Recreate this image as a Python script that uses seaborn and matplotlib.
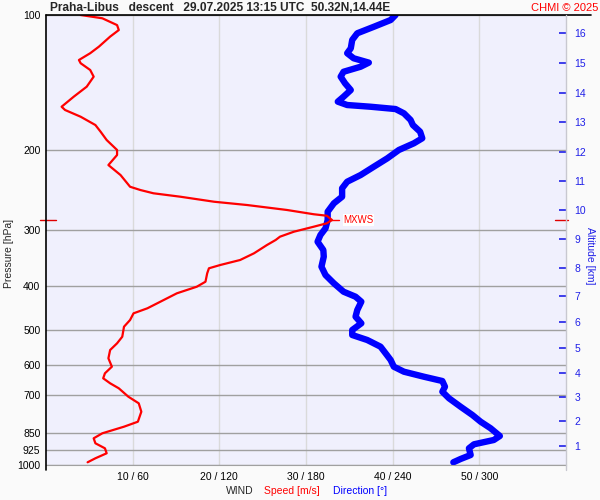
import numpy as np
import matplotlib
matplotlib.use("Agg")
import matplotlib.pyplot as plt
import matplotlib.transforms as mtransforms
from matplotlib.lines import Line2D
from matplotlib.ticker import NullLocator
import seaborn as sns

# Wind speed profile, m/s against pressure in hPa (descent)
speed_pres = [100, 101.7, 105.3, 108, 111.7, 117.6, 121.6, 125.9, 128, 132.5,
              137.1, 144.3, 151.9, 159.9, 162.6, 168.3, 175.6, 181.7, 189.6, 199.5,
              204.7, 215.5, 226.8, 240.8, 244.9, 249, 253.4, 260, 264.4, 271.2,
              277.2, 279.3, 285.5, 290.3, 295.4, 303.1, 310.9, 316.2, 324.4, 338.5,
              350.3, 359.4, 365.5, 375, 391.5, 401.6, 415.4, 433.6, 448.5, 460.2,
              476.2, 492.8, 518.7, 536.5, 555.2, 579.3, 604.7, 625.5, 641.7, 658.3,
              675.4, 705, 729.3, 761.3, 801.3, 822, 850.2, 872.3, 894.9, 918.1,
              941.8, 966.2, 986.2]
speed_ms = [4.0, 6.5, 8.2, 8.4, 7.4, 6.1, 5.1, 3.8, 4.0, 5.1,
            5.5, 4.7, 3.2, 1.8, 2.2, 4.0, 5.7, 6.3, 7.0, 8.2,
            8.2, 7.2, 8.6, 9.7, 10.9, 12.4, 15.5, 19.4, 23.2, 27.8,
            30.9, 32.4, 33.0, 32.4, 30.9, 28.6, 27.0, 26.5, 25.5, 24.0,
            22.4, 20.1, 18.8, 18.6, 18.4, 17.4, 15.1, 13.2, 11.7, 10.1,
            9.7, 9.0, 8.8, 8.2, 7.4, 7.2, 7.6, 6.8, 6.6, 7.4,
            8.4, 9.5, 10.7, 11.0, 10.6, 9.0, 6.5, 5.5, 5.7, 6.8,
            7.0, 5.7, 4.8]

# Wind direction profile, degrees against pressure in hPa
dir_pres = [100, 102.6, 106.2, 109.8, 113.6, 118.6, 121.6, 124.8, 127.6, 130.3,
            133.7, 137.1, 141.8, 146.8, 151.9, 155.8, 158.5, 159.9, 161.8, 165.4,
            171.1, 175.6, 181.7, 187.9, 192.8, 199.5, 208.2, 217.3, 226.8, 234.7,
            242.7, 253.4, 262.1, 273.6, 285.5, 297.9, 308.2, 319, 332.9, 344.4,
            362.5, 378.3, 394.7, 412, 422.7, 433.6, 452.5, 468.2, 484.3, 501.2,
            514.2, 527.5, 545.9, 569.6, 584.3, 604.7, 620.4, 636.5, 650.7, 670,
            687.3, 710.8, 742.1, 774.3, 801.3, 828.7, 862.1, 879.9, 899.5, 918.1,
            950.1, 969.8, 986.2]
dir_deg = [242, 238.6, 227, 215.5, 212, 211, 208.5, 213, 223.5, 217.8,
           206, 204, 207, 211, 206, 202, 208.5, 224.7, 242, 247.8,
           252.4, 254, 259, 260.5, 254.7, 244.3, 236.3, 227, 217.8, 208.5,
           205, 205, 199.3, 195, 195, 193.5, 190, 188, 192, 192.3,
           190.7, 193.5, 199.3, 206, 214.3, 218.3, 215.5, 214.3, 218.3, 212,
           212, 222.4, 231.6, 236, 238.6, 240.8, 247.8, 261.6, 274.4, 276.2,
           274.4, 279, 287, 295.2, 300.9, 307.8, 314.2, 310, 296.3, 292.8,
           294, 287, 282]

# Axis ticks
pres_ticks = [100, 200, 300, 400, 500, 600, 700, 850, 925, 1000]
speed_ticks = [10, 20, 30, 40, 50]
dir_ticks = [60, 120, 180, 240, 300]
alt_km = [1, 2, 3, 4, 5, 6, 7, 8, 9, 10, 11, 12, 13, 14, 15, 16]
alt_pres = [907.6, 798.5, 706.3, 624.6, 549.5, 481.2, 421.2, 364.9, 314.6, 271.3,
            233.8, 201.6, 172.9, 149.1, 127.8, 109.6]

RED = "#ff0000"
BLUE = "#0000ff"
ALT_BLUE = "#2020e8"

sns.set_style("white")
plt.rcParams["font.family"] = ["Liberation Sans", "DejaVu Sans"]

W, H = 600, 500
fig = plt.figure(figsize=(6, 5), dpi=100, facecolor="#fafafa")
# plot area: x 46..566 px, y 15..465 px
ax = fig.add_axes([46 / W, 35 / H, 520 / W, 450 / H])
ax.set_facecolor("#f0f0fd")

# base axes carries direction (0-360), twin carries speed (0-60) on top
ax.set_yscale("log")
sns.lineplot(x=dir_deg, y=dir_pres, sort=False, orient="y", estimator=None,
             color=BLUE, lw=4.6, solid_capstyle="round", ax=ax)
ax.set_xlim(0, 360)
ax.set_ylim(1000, 100)
ax.yaxis.set_minor_locator(NullLocator())
ax.set_yticks(pres_ticks)
ax.set_yticklabels([str(p) for p in pres_ticks])
ax.set_xticks(dir_ticks)
ax.set_xticklabels([f"{s} / {d}" for s, d in zip(speed_ticks, dir_ticks)])
ax.tick_params(axis="both", length=0, labelsize=7.5, colors="black")
ax.tick_params(axis="y", pad=4)
ax.tick_params(axis="x", pad=5)
ax.set_xlabel("")
ax.set_ylabel("")
ax.set_axisbelow(True)
ax.yaxis.grid(True, color="#a0a0a0", lw=1)
ax.xaxis.grid(True, color="#dadada", lw=1)
for s in ["top", "right", "left"]:
    ax.spines[s].set_visible(False)
ax.spines["bottom"].set_color("#a0a0a0")

ax2 = ax.twiny()
sns.lineplot(x=speed_ms, y=speed_pres, sort=False, orient="y", estimator=None,
             color=RED, lw=1.6, ax=ax2)
ax2.set_xlim(0, 60)
ax2.xaxis.set_visible(False)
ax2.set_xlabel("")
for s in ax2.spines.values():
    s.set_visible(False)

# max wind marker
i_max = int(np.argmax(speed_ms))
p_max = speed_pres[i_max]
v_max = speed_ms[i_max]
ax2.plot([v_max - 0.3, v_max + 0.8], [p_max, p_max], color=RED, lw=1)
ax2.text(v_max + 1.3, p_max, "MXWS", color=RED, fontsize=7, va="center",
         bbox=dict(facecolor="white", edgecolor="none", pad=0.5))
trans = mtransforms.blended_transform_factory(ax.transAxes, ax.transData)
ax.plot([-6 / 520, 10 / 520], [p_max, p_max], color="#e00000", lw=1,
        transform=trans, clip_on=False)
ax.plot([509 / 520, 522 / 520], [p_max, p_max], color="#e00000", lw=1,
        transform=trans, clip_on=False)

# altitude axis on the right
ax3 = ax.twinx()
ax3.set_yscale("log")
ax3.set_ylim(1000, 100)
ax3.yaxis.set_minor_locator(NullLocator())
ax3.set_yticks(alt_pres)
ax3.set_yticklabels([str(a) for a in alt_km])
ax3.tick_params(axis="y", direction="in", length=5, width=1.2,
                colors=ALT_BLUE, labelsize=7.5, pad=6)
for s in ax3.spines.values():
    s.set_visible(False)

# frame lines
fig.add_artist(Line2D([46 / W, 591 / W], [1 - 15 / H, 1 - 15 / H], color="black", lw=1.2))
fig.add_artist(Line2D([46 / W, 46 / W], [1 - 15 / H, 1 - 470 / H], color="black", lw=1.2))
fig.add_artist(Line2D([566 / W, 566 / W], [1 - 15 / H, 1 - 470 / H], color="#c8c8d0", lw=1))

# texts
fig.text(50 / W, 1 - 8 / H, "Praha-Libus   descent   29.07.2025 13:15 UTC  50.32N,14.44E",
         fontsize=8.6, fontweight="bold", va="center", ha="left")
fig.text(598 / W, 1 - 8 / H, "CHMI \u00a9 2025", fontsize=8, color=RED,
         va="center", ha="right")
fig.text(9 / W, 1 - 253 / H, "Pressure [hPa]", fontsize=7.5, rotation=90,
         va="center", ha="center")
fig.text(590 / W, 1 - 256 / H, "Altitude [km]", fontsize=7.5, rotation=-90,
         va="center", ha="center", color=ALT_BLUE)
fig.text(226 / W, 1 - 491 / H, "WIND", fontsize=7.5, va="center", ha="left")
fig.text(264 / W, 1 - 491 / H, "Speed [m/s]", fontsize=7.5, va="center",
         ha="left", color=RED)
fig.text(333 / W, 1 - 491 / H, "Direction [\u00b0]", fontsize=7.5, va="center",
         ha="left", color=BLUE)

fig.savefig("out.png", dpi=100, facecolor=fig.get_facecolor())
